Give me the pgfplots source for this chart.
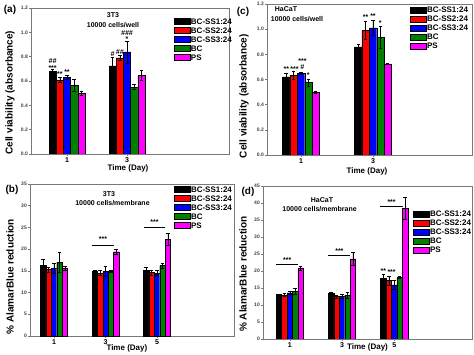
\documentclass[border=0pt]{standalone}
\usepackage{pgfplots}
\usepackage{pgfplotstable}
\pgfplotsset{compat=1.18}
\usepackage{fontspec}
\setmainfont{Liberation Sans}
\definecolor{cgreen}{RGB}{0,128,0}
\definecolor{cmag}{RGB}{255,0,255}
\definecolor{frame}{RGB}{120,120,120}

\pgfplotstableread{
x k ke r re b be g ge m me
0 0.678 0.02 0.61 0.02 0.63 0.015 0.565 0.05 0.50 0.02
1 0.725 0.07 0.79 0.02 0.84 0.09 0.55 0.02 0.645 0.04
}\tabA
\pgfplotstableread{
x k ke r re b be g ge m me
0 0.62 0.03 0.635 0.03 0.65 0.01 0.575 0.03 0.50 0.01
1 0.86 0.02 0.99 0.07 1.01 0.06 0.935 0.09 0.725 0.005
}\tabC
\pgfplotstableread{
x k ke r re b be g ge m me
0 16.3 1.3 15.3 0.5 15.6 1.2 17.0 2.2 15.6 0.5
1 14.9 0.2 14.5 0.6 14.9 1.1 14.9 0.2 19.4 0.6
2 15.1 0.7 14.6 0.6 14.5 0.6 16.2 0.6 22.3 1.4
}\tabB
\pgfplotstableread{
x k ke r re b be g ge m me
0 13.1 0.2 13.0 0.5 13.6 0.5 14.0 0.8 20.9 0.6
1 13.4 0.3 12.5 0.4 12.6 0.7 12.9 0.8 23.6 1.9
2 17.9 1.2 17.2 1.3 15.9 1.3 18.2 0.2 38.5 3.2
}\tabD

\pgfplotsset{
  panel/.style={
    scale only axis, ybar, ymin=0,
    axis line style={frame, line width=0.8pt},
    tick style={frame, line width=0.5pt},
    tick align=outside, major tick length=2pt,
    xtick pos=bottom, ytick pos=left,
    /pgf/number format/assume math mode=true,
    y tick label style={font=\bfseries\fontsize{5}{6}\selectfont, text=black!75, inner sep=1pt},
    x tick label style={font=\bfseries\fontsize{7}{8}\selectfont, inner sep=1pt},
    xlabel style={font=\bfseries\fontsize{8}{9}\selectfont},
    ylabel style={font=\bfseries\fontsize{10}{11}\selectfont, rotate=0},
    legend style={draw=none, fill=none, inner sep=0pt, row sep=2pt,
      font=\bfseries\fontsize{8}{9}\selectfont,
      nodes={inner sep=0.5pt, text height=6pt, text depth=0pt}},
    legend cell align=left,
  },
  mb/.style={fill=#1, draw=black, line width=0.3pt,
    error bars/.cd, y dir=both, y explicit,
    error bar style={black, line width=0.4pt},
    error mark options={rotate=90, black, mark size=1.8pt, line width=0.4pt},
    /pgfplots/.cd,
    legend image code/.code={\draw[fill=#1, draw=black, line width=0.3pt] (0pt,-3pt) rectangle (16pt,3pt);}},
}

\newcommand{\bars}[2]{% table, width
  \addplot[mb=black, bar shift=-2*#2] table[x=x,y=k,y error=ke]{#1};
  \addplot[mb=red, bar shift=-#2] table[x=x,y=r,y error=re]{#1};
  \addplot[mb=blue, bar shift=0] table[x=x,y=b,y error=be]{#1};
  \addplot[mb=cgreen, bar shift=#2] table[x=x,y=g,y error=ge]{#1};
  \addplot[mb=cmag, bar shift=2*#2] table[x=x,y=m,y error=me]{#1};
  \legend{BC-SS1:24,BC-SS2:24,BC-SS3:24,BC,PS}
}

\begin{document}
\begin{tikzpicture}
\useasboundingbox (0,0) rectangle (474pt,-355pt);
\tikzset{sig/.style={font=\bfseries\fontsize{7}{7}\selectfont, inner sep=0pt}}

% (a)
\begin{axis}[panel, at={(31pt,-154pt)}, anchor=south west,
  width=198pt, height=146pt, bar width=0.12,
  xmin=-0.6, xmax=2.7, ymax=1.2,
  xtick={0,1}, xticklabels={1,3},
  ytick={0,0.2,...,1.2},
  yticklabel style={/pgf/number format/.cd, fixed, fixed zerofill, precision=1},
  xlabel={Time (Day)}, ylabel={Cell viability (absorbance)},
  xlabel style={at={(axis description cs:0.49,-0.096)}, anchor=center},
  ylabel style={at={(axis description cs:-0.106,0.42)}, anchor=center, rotate=0},
  legend style={at={(axis description cs:0.722,0.936)}, anchor=north west}]
\bars{\tabA}{0.12}
\node[sig] at (axis cs:-0.24,0.71) {***};
\node[sig] at (axis cs:-0.24,0.76) {\itshape \#\#};
\node[sig] at (axis cs:-0.12,0.655) {**};
\node[sig] at (axis cs:0,0.672) {**};
\node[sig] at (axis cs:0.76,0.825) {\itshape \#};
\node[sig] at (axis cs:0.88,0.835) {\itshape \#\#};
\node[sig] at (axis cs:1.0,0.945) {*};
\node[sig] at (axis cs:1.0,0.99) {\itshape \#\#\#};
\end{axis}

% (c)
\begin{axis}[panel, at={(267pt,-155pt)}, anchor=south west,
  width=205pt, height=151pt, bar width=0.102,
  xmin=-0.472, xmax=2.375, ymax=1.2,
  xtick={0,1}, xticklabels={1,3},
  ytick={0,0.2,...,1.2},
  yticklabel style={/pgf/number format/.cd, fixed, fixed zerofill, precision=1},
  xlabel={Time (Day)}, ylabel={Cell viability (absorbance)},
  xlabel style={at={(axis description cs:0.488,-0.106)}, anchor=center},
  ylabel style={at={(axis description cs:-0.112,0.39)}, anchor=center},
  legend style={at={(axis description cs:0.698,0.985)}, anchor=north west}]
\bars{\tabC}{0.102}
\node[sig] at (axis cs:-0.204,0.68) {**};
\node[sig] at (axis cs:-0.09,0.68) {***};
\node[sig] at (axis cs:0.02,0.745) {***};
\node[sig] at (axis cs:0.02,0.70) {\itshape \#};
\node[sig] at (axis cs:0.102,0.635) {*};
\node[sig] at (axis cs:0.898,1.094) {**};
\node[sig] at (axis cs:1.0,1.107) {**};
\node[sig] at (axis cs:1.102,1.05) {*};
\end{axis}

% (b)
\begin{axis}[panel, at={(30pt,-336pt)}, anchor=south west,
  width=204pt, height=152pt, bar width=0.104,
  xmin=-0.466, xmax=3.495, ymax=35,
  xtick={0,1,2}, xticklabels={1,3,5},
  ytick={0,5,...,35},
  xlabel={Time (Day)}, ylabel={\% AlamarBlue reduction},
  xlabel style={at={(axis description cs:0.475,-0.079)}, anchor=center},
  ylabel style={at={(axis description cs:-0.098,0.39)}, anchor=center},
  legend style={at={(axis description cs:0.706,0.99)}, anchor=north west}]
\bars{\tabB}{0.104}
\draw[black, line width=0.5pt] (axis cs:0.74,21.0) -- (axis cs:1.16,21.0);
\draw[black, line width=0.5pt] (axis cs:1.74,25.1) -- (axis cs:2.16,25.1);
\node[sig] at (axis cs:0.95,22.2) {***};
\node[sig] at (axis cs:1.95,26.3) {***};
\end{axis}

% (d)
\begin{axis}[panel, at={(263pt,-339pt)}, anchor=south west,
  width=209pt, height=153pt, bar width=0.104,
  xmin=-0.513, xmax=3.49, ymax=45,
  xtick={0,1,2}, xticklabels={1,3,5},
  ytick={0,5,...,45},
  xlabel={Time (Day)}, ylabel={\% AlamarBlue reduction},
  xlabel style={at={(axis description cs:0.5,-0.057)}, anchor=center},
  ylabel style={at={(axis description cs:-0.096,0.425)}, anchor=center},
  legend style={at={(axis description cs:0.718,0.843)}, anchor=north west}]
\bars{\tabD}{0.104}
\draw[black, line width=0.5pt] (axis cs:-0.27,22.0) -- (axis cs:0.16,22.0);
\draw[black, line width=0.5pt] (axis cs:0.73,24.7) -- (axis cs:1.16,24.7);
\draw[black, line width=0.5pt] (axis cs:1.73,38.9) -- (axis cs:2.16,38.9);
\node[sig] at (axis cs:-0.05,23.3) {***};
\node[sig] at (axis cs:0.95,26.0) {***};
\node[sig] at (axis cs:1.95,40.2) {***};
\node[sig] at (axis cs:1.792,20.0) {**};
\node[sig] at (axis cs:1.95,19.6) {***};
\end{axis}

% titles and panel labels
\node[font=\bfseries\fontsize{7}{8}\selectfont] at (113pt,-15pt) {3T3};
\node[font=\bfseries\fontsize{7}{8}\selectfont] at (113pt,-25pt) {10000 cells/well};
\node[font=\bfseries\fontsize{7}{8}\selectfont] at (286pt,-9pt) {HaCaT};
\node[font=\bfseries\fontsize{7}{8}\selectfont] at (297pt,-19pt) {10000 cells/well};
\node[font=\bfseries\fontsize{7}{8}\selectfont] at (109pt,-194pt) {3T3};
\node[font=\bfseries\fontsize{7}{8}\selectfont] at (112.5pt,-203pt) {10000 cells/membrane};
\node[font=\bfseries\fontsize{7}{8}\selectfont] at (322pt,-200pt) {HaCaT};
\node[font=\bfseries\fontsize{7}{8}\selectfont] at (319.6pt,-209pt) {10000 cells/membrane};
\node[font=\bfseries\fontsize{10}{11}\selectfont] at (10pt,-10pt) {(a)};
\node[font=\bfseries\fontsize{10}{11}\selectfont] at (243pt,-12pt) {(c)};
\node[font=\bfseries\fontsize{10}{11}\selectfont] at (12pt,-190pt) {(b)};
\node[font=\bfseries\fontsize{10}{11}\selectfont] at (248pt,-192pt) {(d)};
\end{tikzpicture}
\end{document}
